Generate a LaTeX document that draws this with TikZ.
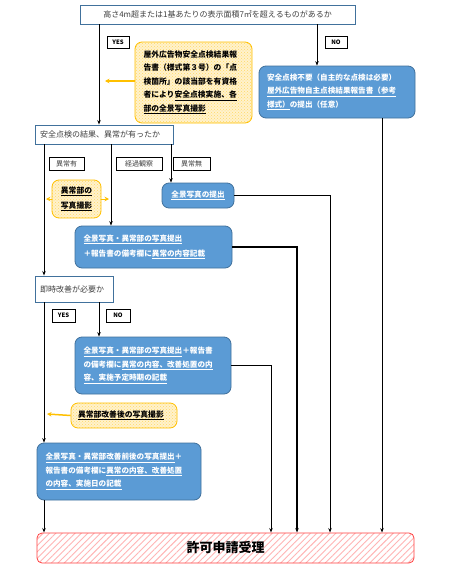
\documentclass[tikz,border=0pt]{standalone}
\usepackage{fontspec}
\setmainfont{Noto Sans CJK JP}
\usetikzlibrary{arrows.meta,patterns,patterns.meta}
\definecolor{bF}{HTML}{5B9BD5}
\definecolor{bD}{HTML}{41719C}
\definecolor{org}{HTML}{FFC000}
\definecolor{yF}{HTML}{FFF2CC}
\definecolor{yP}{HTML}{FFD966}
\definecolor{rD}{HTML}{FF4040}
\definecolor{rP}{HTML}{FFB5B5}
\definecolor{gT}{HTML}{404040}
\newcommand{\ul}[1]{\underline{#1}}
\tikzset{
 wbox/.style={draw=bD, line width=0.9pt, fill=white, inner sep=0pt, text=gT, font=\fontsize{8}{10}\selectfont},
 lbl/.style={draw=black, line width=0.7pt, fill=white, inner sep=0pt, font=\fontsize{6}{7}\bfseries\selectfont},
 lblj/.style={draw=black, line width=0.7pt, fill=white, inner sep=0pt, text=gT, font=\fontsize{7}{8}\selectfont},
 bbox/.style={draw=bD, line width=0.8pt, fill=bF, rounded corners=7pt, inner sep=0pt, text=white, font=\fontsize{7.6}{13.5}\bfseries\selectfont, align=left},
 ybox/.style={draw=org, line width=0.8pt, rounded corners=7pt, inner sep=0pt, preaction={fill=yF}, pattern=crosshatch dots, pattern color=yP, text=black, font=\fontsize{7.8}{13.5}\bfseries\selectfont, align=left},
 rbox/.style={draw=rD, line width=0.8pt, rounded corners=5pt, inner sep=0pt, preaction={fill=white}, pattern={Lines[angle=45,distance=4.5pt,line width=0.9pt]}, pattern color=rP, text=black, font=\fontsize{13}{15}\bfseries\selectfont},
 arr/.style={line width=1pt, -{Stealth[length=4.5pt,width=3.4pt]}},
 oarr/.style={draw=org, line width=1.5pt, -{Stealth[length=4.5pt,width=4.5pt]}},
}
\begin{document}
\begin{tikzpicture}[x=1pt,y=-1pt]
\fill[white] (0,0) rectangle (455,570);
\useasboundingbox (0,0) rectangle (455,570);
% coordinates for vertical connector positions
\coordinate (c44) at (44,0);
\coordinate (c99) at (99,0);
\coordinate (c111) at (111,0);
\coordinate (c171) at (171,0);
\coordinate (c271) at (271,0);
\coordinate (c297) at (297,0);
\coordinate (c317) at (317,0);
\coordinate (c330) at (330,0);
\coordinate (c382) at (382,0);
\coordinate (o1) at (105,81);
\coordinate (o2) at (46,199);
\coordinate (o3) at (109,199);
\coordinate (o4) at (47,414);

% boxes
\node[wbox, minimum width=275pt, minimum height=19pt] (top) at (217.5,14.5) {高さ4m超または1基あたりの表示面積7㎡を超えるものがあるか};
\node[ybox, minimum width=117pt, minimum height=81pt, text width=100pt] (ybig) at (193.5,82.5)
 {屋外広告物安全点検結果報\\告書（様式第３号）の「点\\検箇所」の該当部を有資格\\者により\ul{安全点検実施、各}\\\ul{部の全景写真撮影}};
\node[bbox, minimum width=156pt, minimum height=52pt, text width=140pt] (b1) at (337,92)
 {安全点検不要（自主的な点検は必要）\\\ul{屋外広告物自主点検結果報告書（参考}\\\ul{様式）}の提出（任意）};
\node[wbox, minimum width=138pt, minimum height=19pt, text width=128pt, align=left] (chk) at (104,134.5) {安全点検の結果、異常が有ったか};
\node[ybox, minimum width=49pt, minimum height=38pt, align=center, font=\fontsize{7.8}{15}\bfseries\selectfont] (ysm) at (76.5,199) {\ul{異常部の}\\\ul{写真撮影}};
\node[bbox, minimum width=72pt, minimum height=25pt, align=center] (bz) at (198,195.5) {\ul{全景写真の提出}};
\node[bbox, minimum width=157pt, minimum height=42pt, text width=140pt, font=\fontsize{7.6}{15}\bfseries\selectfont] (b2) at (153.5,247)
 {\ul{全景写真・異常部の写真提出}\\ ＋報告書の備考欄に\ul{異常の内容記載}};
\node[wbox, minimum width=78pt, minimum height=26pt, text width=68pt, align=left] (soku) at (74,289) {即時改善が必要か};
\node[bbox, minimum width=156pt, minimum height=57pt, text width=139pt] (b3) at (153,365.5)
 {\ul{全景写真・異常部の写真提出}＋報告書\\の備考欄に\ul{異常の内容、改善処置の内}\\\ul{容、実施予定時期の記載}};
\node[ybox, minimum width=106pt, minimum height=25pt, text width=92pt] (y3) at (124,415.5) {\ul{異常部改善後の写真撮影}};
\node[bbox, minimum width=164pt, minimum height=57pt, text width=147pt] (b4) at (119,471.5)
 {\ul{全景写真・異常部改善前後の写真提出}＋\\報告書の備考欄に\ul{異常の内容、改善処置}\\\ul{の内容、実施日の記載}};
\node[rbox, minimum width=377pt, minimum height=30pt] (red) at (225.5,548) {許可申請受理};

% labels
\node[lbl, minimum width=22pt, minimum height=12pt] (yes1) at (118,42) {YES};
\node[lbl, minimum width=22pt, minimum height=12pt] (no1) at (336,42.5) {NO};
\node[lblj, minimum width=35pt, minimum height=13pt] (l1) at (66.5,163.5) {異常有};
\node[lblj, minimum width=46pt, minimum height=13pt] (l2) at (139,163.5) {経過観察};
\node[lblj, minimum width=37pt, minimum height=13pt] (l3) at (191.5,163.5) {異常無};
\node[lbl, minimum width=23pt, minimum height=13pt] (yes2) at (63.5,315.5) {YES};
\node[lbl, minimum width=24pt, minimum height=13pt] (no2) at (118,315.5) {NO};

% connectors
\draw[arr] (c99 |- top.south) -- (c99 |- chk.north);
\draw[arr] (c317 |- top.south) -- (c317 |- b1.north);
\draw[arr] (c382 |- b1.south) -- (c382 |- red.north);
\draw[arr] (c44 |- chk.south) -- (c44 |- soku.north);
\draw[arr] (c111 |- chk.south) -- (c111 |- b2.north);
\draw[arr] (c171 |- chk.south) -- (c171 |- bz.north);
\draw[arr] (bz.east) -| (c330 |- red.north);
\draw[arr, line width=1.4pt] (b2.east) -| (c297 |- red.north);
\draw[arr] (c44 |- soku.south) -- (c44 |- b4.north);
\draw[arr] (c99 |- soku.south) -- (c99 |- b3.north);
\draw[arr] (b3.east) -| (c271 |- red.north);
\draw[arr] (c44 |- b4.south) -- (c44 |- red.north);
% orange arrows
\draw[oarr] (ybig.west |- o1) -- (o1);
\draw[oarr, line width=1pt] (ysm.west) -- (o2);
\draw[oarr, line width=1pt] (ysm.east) -- (o3);
\draw[oarr] (y3.west) -- (o4);
\end{tikzpicture}
\end{document}
